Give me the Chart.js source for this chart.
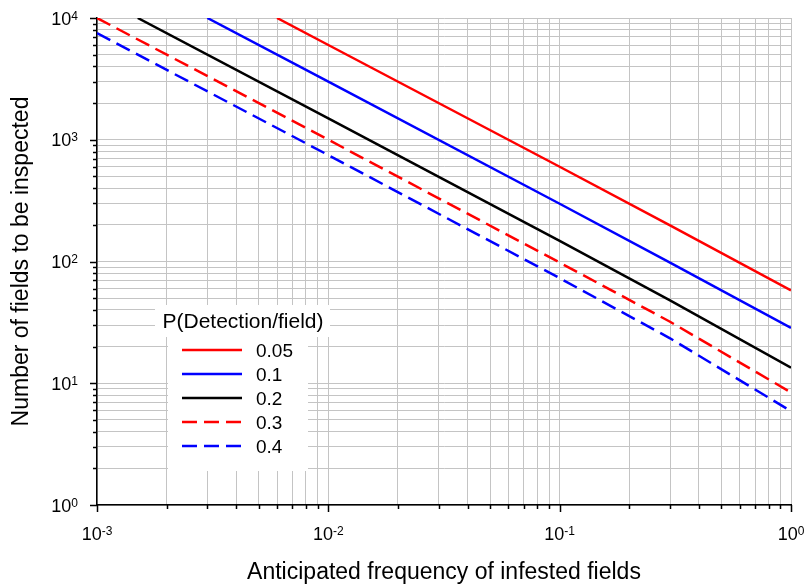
<!DOCTYPE html>
<html>
<head>
<meta charset="utf-8">
<script src="https://cdn.jsdelivr.net/npm/chart.js@4.4.1/dist/chart.umd.min.js"></script>
<style>
  html, body { margin: 0; padding: 0; background: #fff; }
</style>
</head>
<body>
<canvas id="detChart" width="806" height="586"></canvas>
<script>
// values (fields to inspect vs. frequency of infested fields)
const levels = ['0.05', '0.1', '0.2', '0.3', '0.4'];
const freq005 = [0.006, 0.01, 0.1, 0.3, 1];
const fields005 = [10000, 6000, 600, 198, 58];
const freq01 = [0.003, 0.01, 0.1, 0.3, 1];
const fields01 = [10000, 3000, 298, 98, 28.5];
const freq02 = [0.0015, 0.01, 0.1, 0.3, 1];
const fields02 = [10000, 1500, 148, 48, 13.4];
const freq03 = [0.001, 0.01, 0.1, 0.3, 1];
const fields03 = [10000, 1000, 98, 32, 8.4];
const freq04 = [0.001, 0.01, 0.1, 0.3, 1];
const fields04 = [7500, 748, 73, 23.4, 5.9];

// axis ticks
const xDecades = [0.001, 0.01, 0.1, 1];
const xExps = ['-3', '-2', '-1', '0'];
const yDecades = [1, 10, 100, 1000, 10000];
const yExps = ['0', '1', '2', '3', '4'];
const minorSteps = [2, 3, 4, 5, 6, 7, 8, 9];

const FONT = '"Liberation Sans", Arial, sans-serif';
Chart.defaults.font.family = FONT;
Chart.defaults.color = '#000';

function pts(xs, ys) {
    return xs.map((x, i) => ({ x: x, y: ys[i] }));
}

function logTicks(decades) {
    const out = [];
    decades.forEach((d, i) => {
        out.push({ value: d, major: true });
        if (i < decades.length - 1) {
            minorSteps.forEach(m => out.push({ value: d * m, major: false }));
        }
    });
    return out;
}

function drawPow(ctx, exp, x, y, align) {
    ctx.font = '18px ' + FONT;
    const wb = ctx.measureText('10').width;
    ctx.font = '12px ' + FONT;
    const we = ctx.measureText(exp).width;
    const left = align === 'center' ? x - (wb + we) / 2 : x - (wb + we);
    ctx.textAlign = 'left';
    ctx.textBaseline = 'alphabetic';
    ctx.font = '18px ' + FONT;
    ctx.fillText('10', left, y);
    ctx.font = '12px ' + FONT;
    ctx.fillText(exp, left + wb, y - 5);
}

const frame = {
    id: 'frame',
    beforeDatasetsDraw(chart) {
        // white background behind the legend
        const ctx = chart.ctx;
        ctx.save();
        ctx.fillStyle = '#fff';
        ctx.fillRect(155, 305, 175, 32);
        ctx.fillRect(168, 337, 140, 134);
        ctx.restore();
    },
    afterDraw(chart) {
        const ctx = chart.ctx;
        const xs = chart.scales.x, ys = chart.scales.y;
        const area = chart.chartArea;
        ctx.save();
        ctx.strokeStyle = '#000';
        ctx.fillStyle = '#000';
        ctx.lineWidth = 1.5;
        // tick marks
        ctx.beginPath();
        xs.ticks.forEach(t => {
            const px = Math.round(xs.getPixelForValue(t.value)) + 0.5;
            ctx.moveTo(px, area.bottom);
            ctx.lineTo(px, area.bottom + (t.major ? 7 : 4));
        });
        ys.ticks.forEach(t => {
            const py = Math.round(ys.getPixelForValue(t.value)) + 0.5;
            ctx.moveTo(area.left, py);
            ctx.lineTo(area.left - (t.major ? 7 : 4), py);
        });
        ctx.stroke();
        // tick labels
        xDecades.forEach((v, i) => drawPow(ctx, xExps[i], xs.getPixelForValue(v), area.bottom + 35, 'center'));
        yDecades.forEach((v, i) => drawPow(ctx, yExps[i], area.left - 19, ys.getPixelForValue(v) + 6.5, 'right'));

        // legend
        ctx.textAlign = 'center';
        ctx.textBaseline = 'alphabetic';
        ctx.font = '21px ' + FONT;
        ctx.fillText('P(Detection/field)', 243, 328);
        ctx.font = '19px ' + FONT;
        ctx.textAlign = 'left';
        chart.data.datasets.forEach((ds, i) => {
            const y = 350 + i * 24;
            ctx.strokeStyle = ds.borderColor;
            ctx.lineWidth = ds.borderWidth;
            ctx.setLineDash(ds.borderDash || []);
            ctx.beginPath();
            ctx.moveTo(182, y);
            ctx.lineTo(242, y);
            ctx.stroke();
            ctx.setLineDash([]);
            ctx.fillText(ds.label, 256, y + 7);
        });
        ctx.restore();
    }
};

const colors = ['#ff0000', '#0000ff', '#000000', '#ff0000', '#0000ff'];
const dashes = [[], [], [], [15, 7], [15, 7]];
const series = [
    pts(freq005, fields005),
    pts(freq01, fields01),
    pts(freq02, fields02),
    pts(freq03, fields03),
    pts(freq04, fields04)
];

const ctx = document.getElementById('detChart').getContext('2d');
const detChart = new Chart(ctx, {
    type: 'line',
    data: {
        datasets: series.map((d, i) => ({
            label: levels[i],
            data: d,
            borderColor: colors[i],
            borderWidth: 2.5,
            borderDash: dashes[i],
            pointRadius: 0,
            fill: false,
            tension: 0
        }))
    },
    options: {
        responsive: false,
        animation: false,
        layout: { padding: { left: 0, top: 18, right: 15, bottom: 0 } },
        plugins: { legend: { display: false }, tooltip: { enabled: false } },
        scales: {
            x: {
                type: 'logarithmic',
                min: 0.001,
                max: 1,
                afterBuildTicks: s => { s.ticks = logTicks(xDecades); },
                afterFit: s => { s.height = 81; },
                ticks: { display: false },
                grid: { color: '#c4c4c4', lineWidth: 1, drawTicks: false },
                border: { color: '#000', width: 1.5 },
                title: {
                    display: true,
                    text: 'Anticipated frequency of infested fields',
                    font: { size: 23 },
                    padding: { top: 0, bottom: 0 }
                }
            },
            y: {
                type: 'logarithmic',
                min: 1,
                max: 10000,
                afterBuildTicks: s => { s.ticks = logTicks(yDecades); },
                afterFit: s => { s.width = 97; },
                ticks: { display: false },
                grid: { color: '#c4c4c4', lineWidth: 1, drawTicks: false },
                border: { color: '#000', width: 1.5 },
                title: {
                    display: true,
                    text: 'Number of fields to be inspected',
                    font: { size: 23 },
                    padding: { top: 8, bottom: 0 }
                }
            }
        }
    },
    plugins: [frame]
});
</script>
</body>
</html>
